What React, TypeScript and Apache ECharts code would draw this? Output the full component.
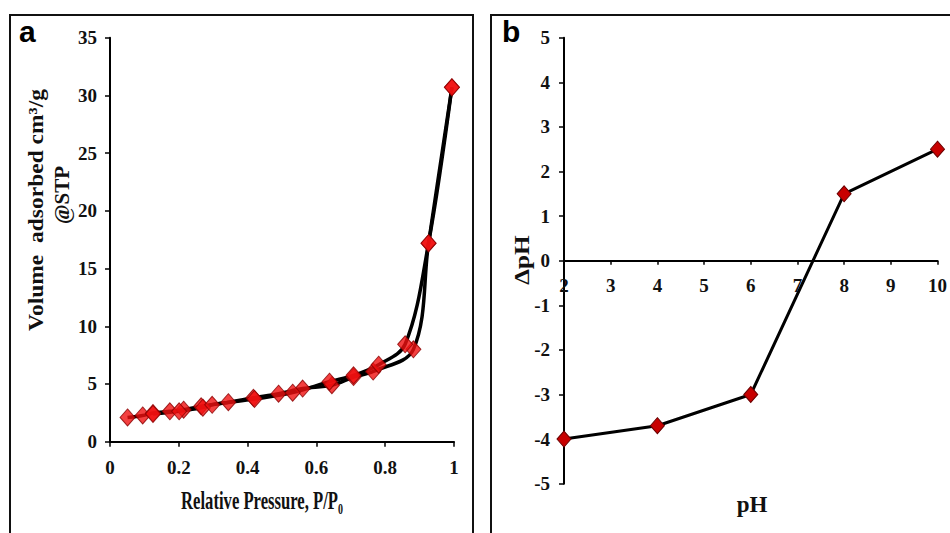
import React, { useEffect, useRef } from "react";
import * as echarts from "echarts";

// Panel a: N2 isotherm, adsorption and desorption branches
const pressureAds = [0.051, 0.095, 0.125, 0.174, 0.214, 0.265, 0.344, 0.417, 0.49, 0.56, 0.645, 0.708, 0.765, 0.882, 0.926, 0.994];
const volumeAds = [2.1, 2.27, 2.48, 2.63, 2.77, 3.07, 3.42, 3.8, 4.16, 4.6, 4.9, 5.6, 6.08, 8.0, 17.2, 30.7];
const pressureDes = [0.125, 0.201, 0.27, 0.297, 0.42, 0.531, 0.638, 0.708, 0.781, 0.858, 0.926, 0.994];
const volumeDes = [2.4, 2.63, 2.95, 3.2, 3.7, 4.25, 5.2, 5.75, 6.67, 8.44, 17.2, 30.7];

// Panel b: point of zero charge
const phValues = [2, 4, 6, 8, 10];
const deltaPh = [-4.0, -3.7, -3.0, 1.5, 2.5];

const SERIF = "'Liberation Serif', 'Times New Roman', serif";
const SANS = "'Liberation Sans', Arial, sans-serif";

const pairs = (xs: number[], ys: number[]) => xs.map((x, i) => [x, ys[i]]);

export default function App() {
  const ref = useRef<HTMLDivElement>(null);

  useEffect(() => {
    if (!ref.current) return;
    const chart = echarts.init(ref.current, undefined, { renderer: "svg" });

    const axisLine = { onZero: false, lineStyle: { color: "#000", width: 2 } };
    const axisTick = { inside: false, length: 5, lineStyle: { color: "#000", width: 1.5 } };
    const tickLabel = {
      fontFamily: SERIF,
      fontWeight: "bold" as const,
      fontSize: 19,
      color: "#111",
    };

    const markerA = { color: "#f01010", borderColor: "#8a0000", borderWidth: 1 };
    const markerB = { color: "#c80000", borderColor: "#6a0000", borderWidth: 1 };

    // panel b plot box: zero line sits at the middle of its height
    const gridBTop = 37.7;
    const gridBHeight = 446;

    chart.setOption({
      animation: false,
      backgroundColor: "#fff",
      textStyle: { fontFamily: SERIF },
      grid: [
        { left: 110, top: 37.7, width: 344, height: 404 },
        { left: 564, top: gridBTop, width: 378, height: gridBHeight },
      ],
      xAxis: [
        {
          type: "value",
          gridIndex: 0,
          min: 0,
          max: 1,
          interval: 0.2,
          splitLine: { show: false },
          axisLine,
          axisTick,
          axisLabel: { ...tickLabel, margin: 16 },
        },
        {
          type: "value",
          gridIndex: 1,
          min: 2,
          max: 10,
          interval: 1,
          position: "bottom",
          offset: -gridBHeight / 2,
          splitLine: { show: false },
          axisLine,
          axisTick: { ...axisTick, length: 4 },
          axisLabel: { ...tickLabel, margin: 15 },
        },
      ],
      yAxis: [
        {
          type: "value",
          gridIndex: 0,
          min: 0,
          max: 35,
          interval: 5,
          splitLine: { show: false },
          axisLine,
          axisTick,
          axisLabel: { ...tickLabel, margin: 13 },
        },
        {
          type: "value",
          gridIndex: 1,
          min: -5,
          max: 5,
          interval: 1,
          splitLine: { show: false },
          axisLine,
          axisTick,
          axisLabel: { ...tickLabel, margin: 14 },
        },
      ],
      series: [
        {
          type: "line",
          xAxisIndex: 0,
          yAxisIndex: 0,
          data: pairs(pressureAds, volumeAds),
          smooth: 0.35,
          showSymbol: false,
          lineStyle: { color: "#000", width: 3.5 },
          z: 2,
        },
        {
          type: "line",
          xAxisIndex: 0,
          yAxisIndex: 0,
          data: pairs(pressureDes, volumeDes),
          smooth: 0.35,
          showSymbol: false,
          lineStyle: { color: "#000", width: 3.5 },
          z: 2,
        },
        {
          type: "scatter",
          xAxisIndex: 0,
          yAxisIndex: 0,
          data: pairs(pressureAds, volumeAds),
          symbol: "diamond",
          symbolSize: [15, 17],
          itemStyle: markerA,
          z: 3,
        },
        {
          type: "scatter",
          xAxisIndex: 0,
          yAxisIndex: 0,
          data: pairs(pressureDes, volumeDes),
          symbol: "diamond",
          symbolSize: [15, 17],
          itemStyle: markerA,
          z: 3,
        },
        {
          type: "line",
          xAxisIndex: 1,
          yAxisIndex: 1,
          data: pairs(phValues, deltaPh),
          showSymbol: true,
          symbol: "diamond",
          symbolSize: [14, 16],
          itemStyle: markerB,
          lineStyle: { color: "#000", width: 3 },
          z: 3,
        },
      ],
      graphic: [
        // panel frames
        {
          type: "rect",
          shape: { x: 10, y: 15, width: 463, height: 540 },
          style: { fill: "none", stroke: "#111", lineWidth: 2 },
          silent: true,
        },
        {
          type: "rect",
          shape: { x: 491, y: 15, width: 480, height: 540 },
          style: { fill: "none", stroke: "#111", lineWidth: 2 },
          silent: true,
        },
        // panel letters
        {
          type: "text",
          x: 19,
          y: 46,
          style: { text: "a", fontFamily: SANS, fontWeight: "bold", fontSize: 30, fill: "#000", textVerticalAlign: "bottom" },
        },
        {
          type: "text",
          x: 502,
          y: 46,
          style: { text: "b", fontFamily: SANS, fontWeight: "bold", fontSize: 30, fill: "#000", textVerticalAlign: "bottom" },
        },
        // panel a axis titles
        {
          type: "text",
          x: 262,
          y: 501,
          scaleX: 0.64,
          style: {
            text: "Relative Pressure, P/P₀",
            fontFamily: SERIF,
            fontWeight: "bold",
            fontSize: 26,
            fill: "#111",
            textAlign: "center",
            textVerticalAlign: "middle",
          },
        },
        {
          type: "text",
          x: 36,
          y: 210,
          rotation: Math.PI / 2,
          scaleX: 1.12,
          style: {
            text: "Volume  adsorbed cm³/g",
            fontFamily: SERIF,
            fontWeight: "bold",
            fontSize: 21,
            fill: "#111",
            textAlign: "center",
            textVerticalAlign: "middle",
          },
        },
        {
          type: "text",
          x: 62,
          y: 195,
          rotation: Math.PI / 2,
          style: {
            text: "@STP",
            fontFamily: SERIF,
            fontWeight: "bold",
            fontSize: 21,
            fill: "#111",
            textAlign: "center",
            textVerticalAlign: "middle",
          },
        },
        // panel b axis titles
        {
          type: "text",
          x: 522,
          y: 260,
          rotation: Math.PI / 2,
          scaleX: 1.2,
          style: {
            text: "ΔpH",
            fontFamily: SERIF,
            fontWeight: "bold",
            fontSize: 21,
            fill: "#111",
            textAlign: "center",
            textVerticalAlign: "middle",
          },
        },
        {
          type: "text",
          x: 752,
          y: 504,
          style: {
            text: "pH",
            fontFamily: SERIF,
            fontWeight: "bold",
            fontSize: 23,
            fill: "#111",
            textAlign: "center",
            textVerticalAlign: "middle",
          },
        },
      ],
    });

    return () => chart.dispose();
  }, []);

  return (
    <div
      ref={ref}
      style={{ position: "absolute", left: 0, top: 0, width: 950, height: 533, background: "#fff" }}
    />
  );
}
